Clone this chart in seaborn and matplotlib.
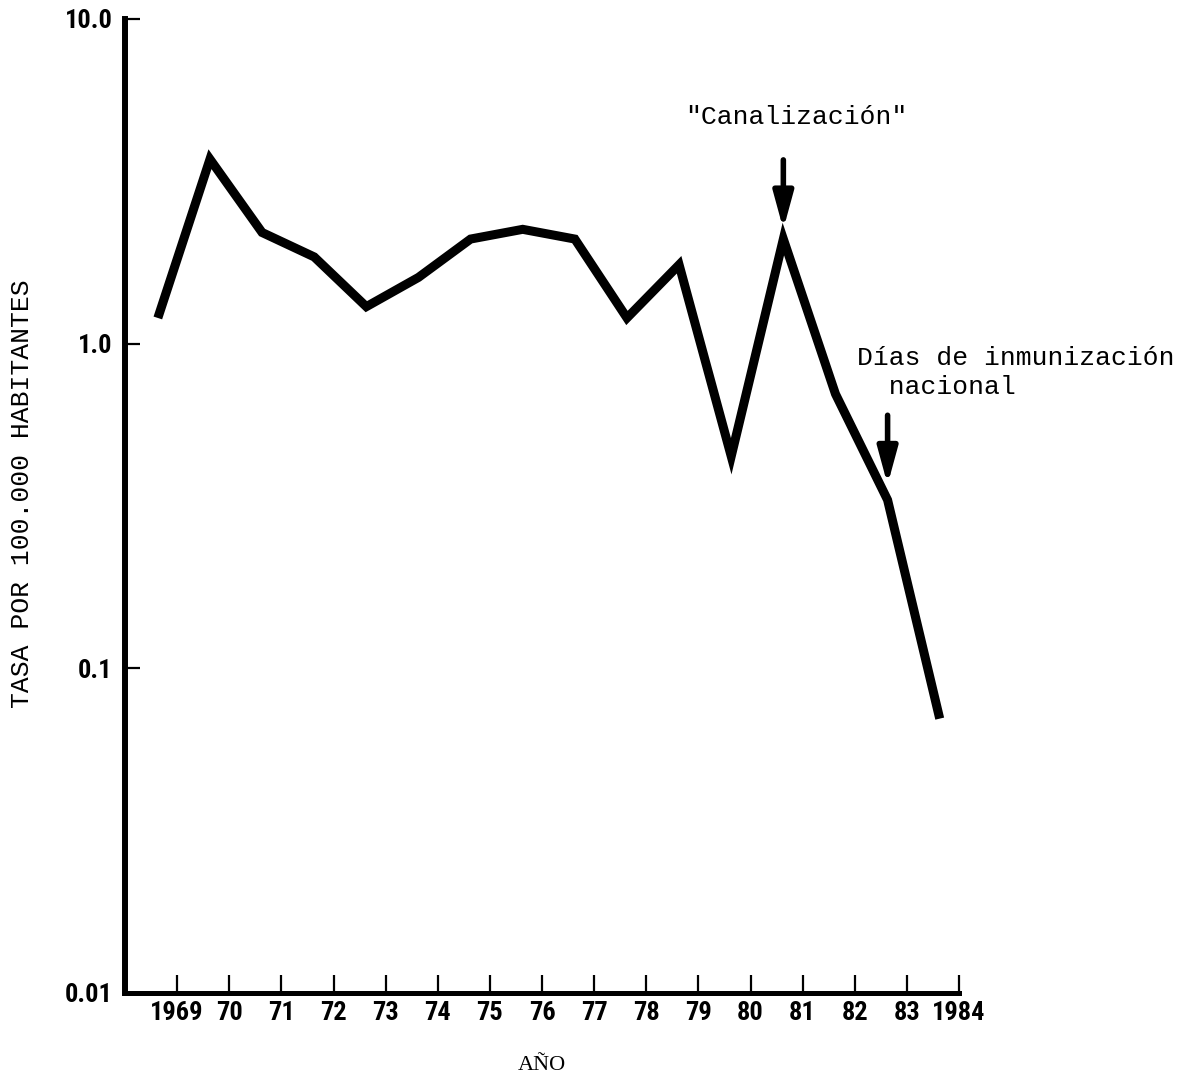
import matplotlib
matplotlib.use("Agg")
import matplotlib.pyplot as plt
from matplotlib.ticker import FixedLocator, FixedFormatter, NullLocator
import seaborn as sns
import pandas as pd

# Tasa anual por 100.000 habitantes
years = [1969, 1970, 1971, 1972, 1973, 1974, 1975, 1976,
         1977, 1978, 1979, 1980, 1981, 1982, 1983, 1984]
rates = [1.2, 3.7, 2.2, 1.85, 1.3, 1.6, 2.1, 2.25,
         2.1, 1.2, 1.75, 0.45, 2.1, 0.7, 0.33, 0.07]

x_tick_years = list(range(1969, 1985))
x_tick_labels = ["1969"] + [str(y)[2:] for y in range(1970, 1984)] + ["1984"]
y_tick_values = [0.01, 0.1, 1.0, 10.0]
y_tick_labels = ["0.01", "0.1", "1.0", "10.0"]

ylabel_text = "TASA POR 100.000 HABITANTES"
xlabel_text = "AÑO"
note_canal = '"Canalización"'
note_dias = "Días de inmunización\n  nacional"

# each annual value sits inside the interval that ends at its year tick
x_shift = -0.37
df = pd.DataFrame({"pos": [y + x_shift for y in years], "tasa": rates})

sns.set_style("white")
narrow = ["Liberation Sans Narrow", "Roboto Condensed", "DejaVu Sans Condensed",
          "Roboto", "DejaVu Sans"]
mono = ["Liberation Mono", "DejaVu Sans Mono"]
plt.rcParams["font.family"] = narrow
plt.rcParams["text.color"] = "black"
plt.rcParams["axes.edgecolor"] = "black"

fig = plt.figure(figsize=(11.86, 10.78), dpi=100)
ax = fig.add_axes([125 / 1186, 1 - 993 / 1078, (959 - 125) / 1186, (993 - 19) / 1078])

sns.lineplot(data=df, x="pos", y="tasa", ax=ax, color="black", linewidth=6.5,
             solid_joinstyle="miter", solid_capstyle="butt")

ax.set_yscale("log")
ax.set_ylim(0.01, 10.0)
ax.set_xlim(1968, 1984)

ax.xaxis.set_major_locator(FixedLocator(x_tick_years))
ax.xaxis.set_major_formatter(FixedFormatter(x_tick_labels))
ax.xaxis.set_minor_locator(NullLocator())
ax.yaxis.set_major_locator(FixedLocator(y_tick_values))
ax.yaxis.set_major_formatter(FixedFormatter(y_tick_labels))
ax.yaxis.set_minor_locator(NullLocator())

for side in ("top", "right"):
    ax.spines[side].set_visible(False)
ax.spines["left"].set_linewidth(4.3)
ax.spines["bottom"].set_linewidth(3.6)
ax.spines["left"].set_color("black")
ax.spines["bottom"].set_color("black")

ax.tick_params(axis="x", direction="in", length=13, width=1.6, pad=6,
               labelsize=19, bottom=True, color="black", labelcolor="black")
ax.tick_params(axis="y", direction="in", length=11, width=1.6, pad=9,
               labelsize=19, left=True, color="black", labelcolor="black")
for lab in ax.get_xticklabels() + ax.get_yticklabels():
    lab.set_fontweight("bold")

ax.set_xlabel("")
ax.set_ylabel("")
fig.text(22 / 1186, 1 - 494 / 1078, ylabel_text, rotation=90, ha="center",
         va="center", fontsize=19, family=mono)
fig.text(542 / 1186, 1 - 1066 / 1078, xlabel_text, ha="center", va="center",
         fontsize=16, family=["Liberation Serif", "DejaVu Serif"])

arrow_style = dict(arrowstyle="-|>,head_length=2.2,head_width=0.6",
                   color="black", lw=4.0, shrinkA=0)

# "Canalización" (1981)
i81 = years.index(1981)
ax.annotate("", xy=(df.pos[i81], rates[i81]), xytext=(0, 57),
            textcoords="offset points",
            arrowprops=dict(**arrow_style, shrinkB=7))
ax.annotate(note_canal, xy=(df.pos[i81], rates[i81]), xytext=(9, 88),
            textcoords="offset points", ha="center", va="center",
            fontsize=19, family=mono)

# Días de inmunización nacional (1983)
i83 = years.index(1983)
ax.annotate("", xy=(df.pos[i83], rates[i83]), xytext=(0, 61),
            textcoords="offset points",
            arrowprops=dict(**arrow_style, shrinkB=11))
ax.annotate(note_dias, xy=(df.pos[i83], rates[i83]), xytext=(-22, 92),
            textcoords="offset points", ha="left", va="center",
            fontsize=19, linespacing=1.25, family=mono)

fig.savefig("out.png", dpi=100, facecolor="white")
